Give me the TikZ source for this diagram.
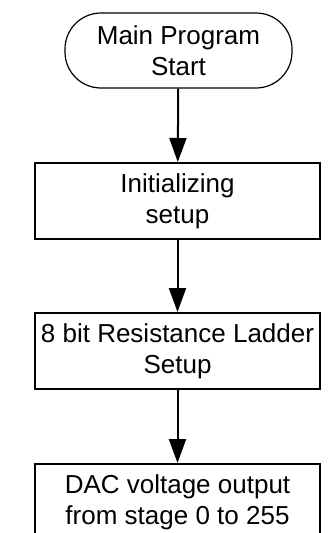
\documentclass[tikz,border=0pt]{standalone}
\usepackage{fontspec}
\setmainfont{Liberation Sans}
\usetikzlibrary{arrows.meta,shapes}

\begin{document}
\begin{tikzpicture}[x=1pt,y=-1pt,>={Triangle[length=24pt,width=17pt]},line width=2pt,
    font=\fontsize{26}{31}\selectfont]
  \tikzset{every block/.style={draw,rectangle,align=center,inner sep=0pt,minimum width=285pt,minimum height=76pt},
           terminal/.style={draw,line width=1.2pt,rounded corners=36pt,align=center,inner sep=0pt,minimum width=227pt,minimum height=75pt}}
  \useasboundingbox (0,0) rectangle (333,533);
  \node[terminal] (0) at (178.5, 50.5) {Main Program\\Start};
  \node[every block] (1) at (177.5, 201) {Initializing\\setup};
  \node[every block] (2) at (177.5, 351) {8 bit Resistance Ladder\\Setup};
  \node[every block] (3) at (177.5, 502) {DAC voltage output\\from stage 0 to 255};
  \path[->] (0) edge (1);
  \path[->] (1) edge (2);
  \path[->] (2) edge (3);
\end{tikzpicture}
\end{document}
